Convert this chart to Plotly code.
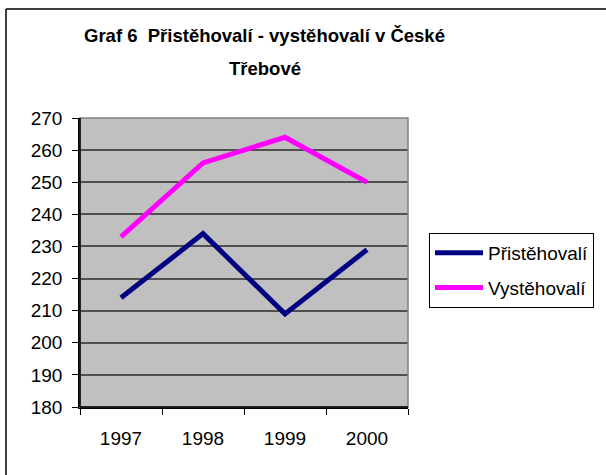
import plotly.graph_objects as go

years = ["1997", "1998", "1999", "2000"]
pristehovali = [214, 234, 209, 229]
vystehovali = [233, 256, 264, 250]
title_line1 = "Graf 6  Přistěhovalí - vystěhovalí v České"
title_line2 = "Třebové"
y_ticks = [180, 190, 200, 210, 220, 230, 240, 250, 260, 270]

FONT = "Liberation Sans, Arial, sans-serif"

fig = go.Figure()
fig.add_trace(go.Scatter(x=years, y=pristehovali, mode="lines", name="Přistěhovalí",
                         line=dict(color="#000080", width=5), legendgroup="a"))
fig.add_trace(go.Scatter(x=years, y=vystehovali, mode="lines", name="Vystěhovalí",
                         line=dict(color="#FF00FF", width=5), legendgroup="b"))

L, R, T, B = 80, 198, 118, 68
W, H = 606, 475
pw, ph = W - L - R, H - T - B

def px(x):
    return (x - L) / pw

def py(y):
    return (H - B - y) / ph

fig.update_layout(
    width=W, height=H,
    margin=dict(l=L, r=R, t=T, b=B, pad=0),
    paper_bgcolor="white",
    plot_bgcolor="#C0C0C0",
    font=dict(family=FONT, size=19, color="black"),
    showlegend=True,
    legend=dict(
        x=px(429), y=py(233), xanchor="left", yanchor="top",
        bordercolor="black", borderwidth=1, bgcolor="white",
        font=dict(size=19, family=FONT, color="black"),
        tracegroupgap=7, itemwidth=48,
        traceorder="grouped",
    ),
    xaxis=dict(
        type="category", range=[-0.5, 3.5],
        showgrid=False, showline=True, linecolor="black", linewidth=1.5,
        ticks="outside", tickson="boundaries", ticklen=6, tickcolor="black",
        tickwidth=1, ticklabelstandoff=13, zeroline=False,
    ),
    yaxis=dict(
        range=[180, 270], tickvals=y_ticks,
        showgrid=True, gridcolor="#505050", gridwidth=1.5,
        showline=True, linecolor="black", linewidth=1.5,
        ticks="outside", ticklen=6, tickcolor="black", tickwidth=1,
        ticklabelstandoff=6, zeroline=False,
    ),
    shapes=[
        dict(type="rect", xref="paper", yref="paper", x0=0, x1=1, y0=0, y1=1,
             line=dict(color="#808080", width=1.5), fillcolor="rgba(0,0,0,0)", layer="above"),
        dict(type="line", xref="paper", yref="paper", x0=px(6), x1=px(700), y0=py(9), y1=py(9),
             line=dict(color="black", width=1.5)),
        dict(type="line", xref="paper", yref="paper", x0=px(6), x1=px(6), y0=py(9), y1=py(600),
             line=dict(color="black", width=1.5)),
        dict(type="line", xref="paper", yref="paper", x0=0, x1=0, y0=0, y1=1,
             line=dict(color="black", width=1.5), layer="above"),
        dict(type="line", xref="paper", yref="paper", x0=0, x1=1, y0=0, y1=0,
             line=dict(color="black", width=1.5), layer="above"),
    ],
    annotations=[
        dict(text="<b>" + title_line1 + "</b>", xref="paper", yref="paper",
             x=px(264), y=py(35), xanchor="center", yanchor="middle", showarrow=False,
             font=dict(size=18.5, family=FONT, color="black")),
        dict(text="<b>" + title_line2 + "</b>", xref="paper", yref="paper",
             x=px(265), y=py(68), xanchor="center", yanchor="middle", showarrow=False,
             font=dict(size=18.5, family=FONT, color="black")),
    ],
)

fig.write_html("out.html", config={"displayModeBar": False},
               post_script="document.body.style.margin='0';document.body.style.overflow='hidden';")
